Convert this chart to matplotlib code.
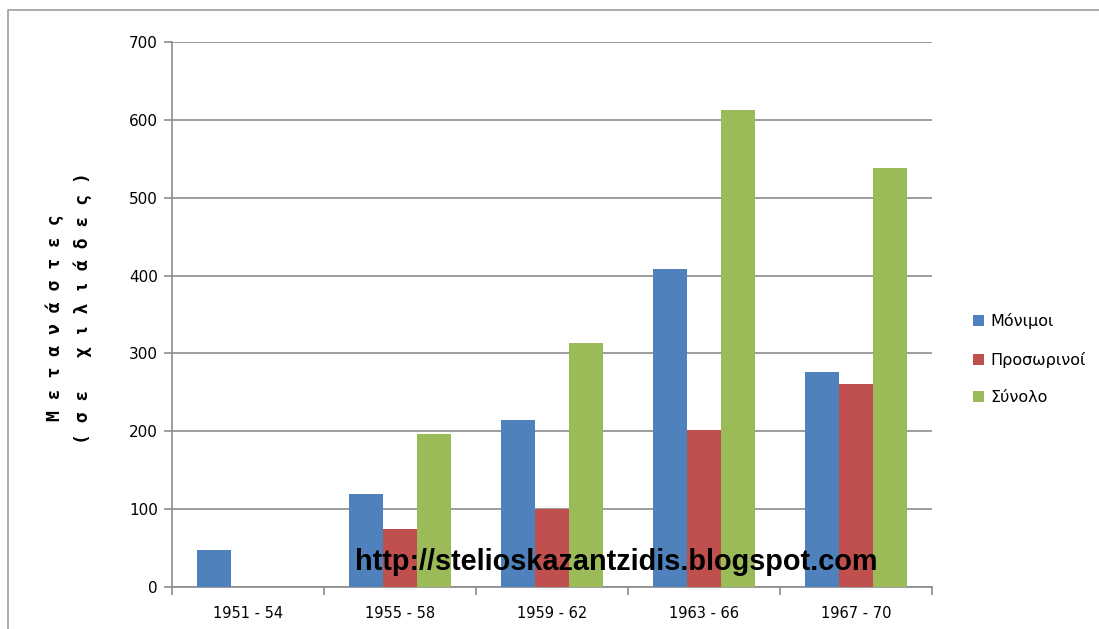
import numpy as np
import matplotlib
matplotlib.use("Agg")
import matplotlib.pyplot as plt
from matplotlib.lines import Line2D

# =============================
# Data
# =============================

periods = ["1951 - 54", "1955 - 58", "1959 - 62", "1963 - 66", "1967 - 70"]
permanent = [48, 119, 215, 409, 276]
temporary = [0, 75, 100, 202, 261]
total = [0, 196, 313, 613, 538]

series_names = ["Μόνιμοι", "Προσωρινοί", "Σύνολο"]
colors = ["#4F81BD", "#C0504D", "#9BBB59"]

# =============================
# Figure
# =============================

fig = plt.figure(figsize=(10.99, 6.29), dpi=100)
ax = fig.add_axes([0.1565, 0.0668, 0.6916, 0.8664])

# outer chart border: only the left and top edges are inside the image
bx, by = 7.5 / 1099, 1 - 10 / 629
fig.add_artist(Line2D([bx, bx, 1.0], [0.0, by, by], transform=fig.transFigure,
                      color="#A6A6A6", linewidth=1.3, solid_capstyle="butt"))

x = np.arange(len(periods))
w = 0.222
for i, (vals, name, c) in enumerate(zip([permanent, temporary, total], series_names, colors)):
    ax.bar(x + (i - 1) * w, vals, width=w, color=c, label=name, zorder=3)

ax.set_xlim(-0.5, len(periods) - 0.5)
ax.set_ylim(0, 700)
ax.set_yticks(np.arange(0, 701, 100))
ax.yaxis.grid(True, color="#8C8C8C", linewidth=1.2, zorder=0)

# ticks at category boundaries, labels at centres
ax.set_xticks(np.arange(-0.5, len(periods), 1))
ax.set_xticklabels([])
ax.set_xticks(x, minor=True)
ax.set_xticklabels(periods, minor=True)
ax.tick_params(axis="x", which="major", length=6, color="#8C8C8C", width=1.2)
ax.tick_params(axis="x", which="minor", length=0, pad=14, labelsize=10.5)
ax.tick_params(axis="y", length=6, color="#8C8C8C", width=1.2, pad=4, labelsize=11)

for s in ["top", "right"]:
    ax.spines[s].set_visible(False)
for s in ["left", "bottom"]:
    ax.spines[s].set_color("#8C8C8C")
    ax.spines[s].set_linewidth(1.2)

# y label, two spaced-out bold lines
fig.text(55 / 1099, 1 - 318 / 629, " ".join("Μετανάστες"), rotation=90, ha="center", va="center",
         fontsize=13, fontweight="bold", family="DejaVu Sans Mono")
fig.text(83 / 1099, 1 - 308 / 629, " ".join("(σε χιλιάδες)"), rotation=90, ha="center", va="center",
         fontsize=13, fontweight="bold", family="DejaVu Sans Mono")

ax.legend(loc="center left", bbox_to_anchor=(1.035, 0.418), frameon=False, fontsize=11.5,
          handlelength=0.7, handleheight=0.7, handletextpad=0.4, labelspacing=1.4)

# watermark
fig.text(616 / 1099, 1 - 562 / 629, "http://stelioskazantzidis.blogspot.com", ha="center", va="center",
         fontsize=20.8, fontweight="bold", family="Liberation Sans", color="black", zorder=10)

fig.savefig("out.png", dpi=100)
